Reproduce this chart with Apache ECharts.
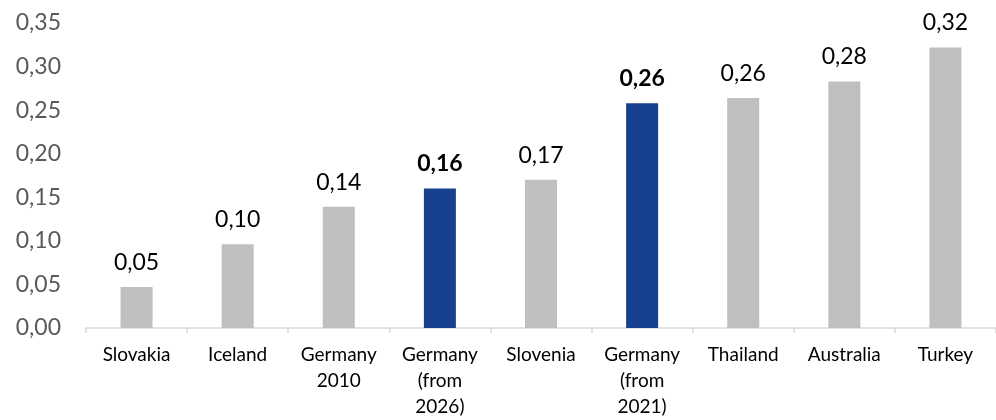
<!DOCTYPE html>
<html>
<head>
<meta charset="utf-8">
<script src="https://cdn.jsdelivr.net/npm/echarts@6/dist/echarts.min.js"></script>
<style>
html,body{margin:0;padding:0;background:#fff;}
#chart{width:996px;height:420px;}
</style>
</head>
<body>
<div id="chart"></div>
<script>
const categories = ['Slovakia', 'Iceland', 'Germany\n2010', 'Germany\n(from\n2026)', 'Slovenia', 'Germany\n(from\n2021)', 'Thailand', 'Australia', 'Turkey'];
const values = [0.047, 0.096, 0.139, 0.160, 0.170, 0.258, 0.264, 0.283, 0.322];
const highlighted = [false, false, false, true, false, true, false, false, false];
const yTicks = { min: 0, max: 0.35, interval: 0.05 };

const FONT = 'Lato, "Open Sans", sans-serif';
const GRAY = '#bfbfbf';
const BLUE = '#17408f';

const fmt = v => v.toFixed(2).replace('.', ',');

const data = values.map((v, i) => ({
  value: v,
  itemStyle: { color: highlighted[i] ? BLUE : GRAY },
  label: { fontWeight: highlighted[i] ? 'bold' : 'normal' }
}));

const chart = echarts.init(document.getElementById('chart'), null, { renderer: 'canvas' });
chart.setOption({
  animation: false,
  backgroundColor: '#fff',
  grid: { left: 86, right: -6, top: 23, bottom: 89, containLabel: false },
  xAxis: {
    type: 'category',
    data: categories,
    boundaryGap: true,
    axisLine: { show: true, lineStyle: { color: '#d9d9d9', width: 1.5 } },
    axisTick: { show: true, length: 5, alignWithLabel: false, lineStyle: { color: '#d9d9d9', width: 1.5 } },
    axisLabel: {
      interval: 0,
      margin: 14,
      color: '#000',
      fontFamily: FONT,
      fontSize: 19,
      lineHeight: 26
    },
    splitLine: { show: false }
  },
  yAxis: {
    type: 'value',
    min: yTicks.min,
    max: yTicks.max,
    interval: yTicks.interval,
    axisLine: { show: false },
    axisTick: { show: false },
    splitLine: { show: false },
    axisLabel: {
      margin: 25,
      color: '#595959',
      fontFamily: FONT,
      fontSize: 23,
      formatter: v => fmt(v)
    }
  },
  series: [{
    type: 'bar',
    data: data,
    barWidth: 32,
    label: {
      show: true,
      position: 'top',
      distance: 13,
      color: '#000',
      fontFamily: FONT,
      fontSize: 23,
      formatter: p => fmt(p.value)
    }
  }]
});
</script>
</body>
</html>
